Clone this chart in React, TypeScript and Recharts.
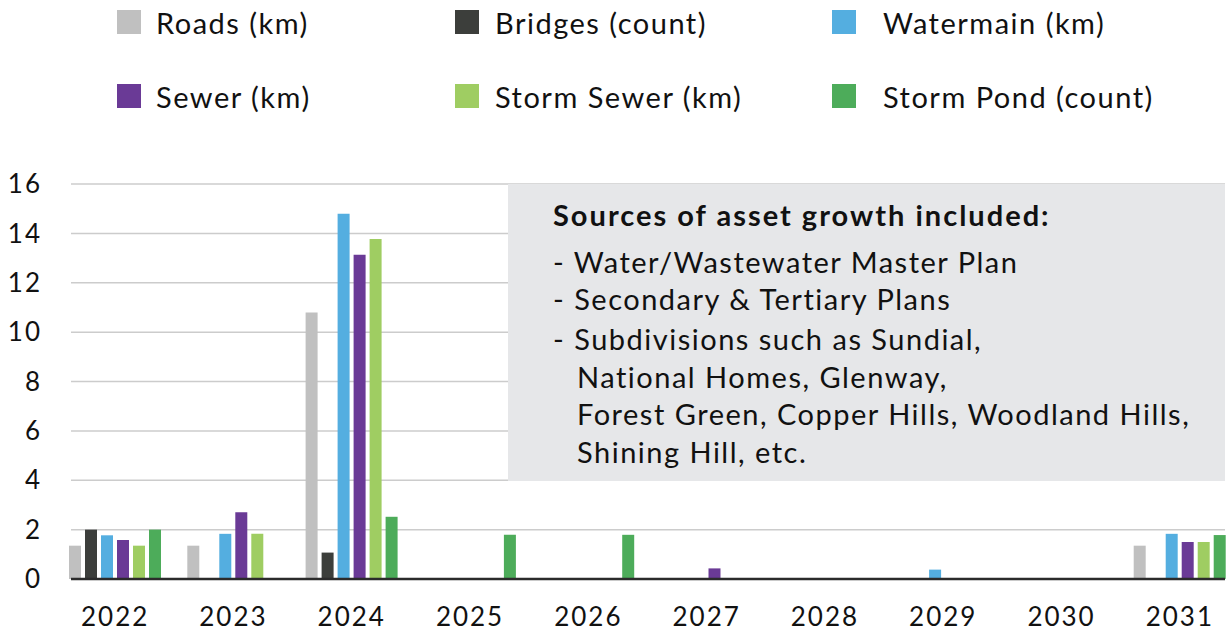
import React from 'react';
import { BarChart, Bar, XAxis, YAxis, CartesianGrid } from 'recharts';

const years = ['2022', '2023', '2024', '2025', '2026', '2027', '2028', '2029', '2030', '2031'];
const roads = [1.35, 1.35, 10.8, 0, 0, 0, 0, 0, 0, 1.35];
const bridges = [2.0, 0, 1.07, 0, 0, 0, 0, 0, 0, 0];
const watermain = [1.77, 1.83, 14.8, 0, 0, 0, 0, 0.38, 0, 1.83];
const sewer = [1.58, 2.7, 13.13, 0, 0, 0.43, 0, 0, 0, 1.5];
const stormSewer = [1.35, 1.83, 13.77, 0, 0, 0, 0, 0, 0, 1.5];
const stormPond = [2.0, 0, 2.52, 1.79, 1.79, 0, 0, 0, 0, 1.78];
const yTicks = [0, 2, 4, 6, 8, 10, 12, 14, 16];

const seriesNames = ['Roads (km)', 'Bridges (count)', 'Watermain (km)', 'Sewer (km)', 'Storm Sewer (km)', 'Storm Pond (count)'];
const seriesKeys = ['roads', 'bridges', 'watermain', 'sewer', 'stormSewer', 'stormPond'];
const seriesColors = ['#c0c0c0', '#3c3e3b', '#54aee0', '#6a3a96', '#9fcd62', '#4dac5a'];

const annotationTitle = 'Sources of asset growth included:';
const annotationLines = [
  '- Water/Wastewater Master Plan',
  '- Secondary & Tertiary Plans',
  '- Subdivisions such as Sundial,',
  'National Homes, Glenway,',
  'Forest Green, Copper Hills, Woodland Hills,',
  'Shining Hill, etc.',
];
const annotationIndent = [false, false, false, true, true, true];

const data = years.map((y, i) => ({
  year: y,
  roads: roads[i],
  bridges: bridges[i],
  watermain: watermain[i],
  sewer: sewer[i],
  stormSewer: stormSewer[i],
  stormPond: stormPond[i],
}));

const FONT = 'Lato, "Open Sans", sans-serif';

const legendSquareX = [117, 455, 832];
const legendTextX = [156, 495, 883];
const legendSquareY = [10, 84];
const legendBaseline = [34, 108];

function LegendLayer() {
  return (
    <svg width={1228} height={130} style={{ position: 'absolute', left: 0, top: 0 }}>
      {seriesNames.map((name, i) => {
        const col = i % 3;
        const row = Math.floor(i / 3);
        return (
          <g key={name}>
            <rect x={legendSquareX[col]} y={legendSquareY[row]} width={24} height={24} fill={seriesColors[i]} />
            <text
              x={legendTextX[col]}
              y={legendBaseline[row]}
              fontFamily={FONT}
              fontSize={29}
              fill="#111"
              style={{ letterSpacing: '1.5px' }}
            >
              {name}
            </text>
          </g>
        );
      })}
    </svg>
  );
}

function AnnotationLayer() {
  const baselines = [273, 310, 350, 388, 425, 463];
  return (
    <svg width={1228} height={632} style={{ position: 'absolute', left: 0, top: 0, pointerEvents: 'none' }}>
      <rect x={508} y={184} width={717} height={297} fill="#e6e7e9" />
      <text x={553} y={226} fontFamily={FONT} fontSize={29} fontWeight={700} fill="#111" style={{ letterSpacing: '2px' }}>
        {annotationTitle}
      </text>
      {annotationLines.map((l, i) => (
        <text
          key={i}
          x={annotationIndent[i] ? 577 : 553}
          y={baselines[i]}
          fontFamily={FONT}
          fontSize={29}
          fill="#111"
          style={{ letterSpacing: '1.5px' }}
        >
          {l}
        </text>
      ))}
    </svg>
  );
}

export default function App() {
  return (
    <div style={{ position: 'absolute', left: 0, top: 0, width: 1228, height: 632, background: '#fff', overflow: 'hidden' }}>
      <BarChart
        width={1228}
        height={632}
        data={data}
        margin={{ top: 184, right: 3, bottom: 0, left: 0 }}
        barSize={12}
        barGap={4}
      >
        <CartesianGrid horizontal={true} vertical={false} stroke="#cccccc" strokeWidth={1.5} />
        <XAxis
          dataKey="year"
          height={53}
          padding={{ left: -15, right: -14 }}
          tickLine={false}
          tickSize={0}
          tickMargin={29}
          axisLine={{ stroke: '#2b2b2b', strokeWidth: 2.5 }}
          tick={{ fontFamily: FONT, fontSize: 26, fill: '#111', style: { letterSpacing: '2px' } }}
          interval={0}
        />
        <YAxis
          width={71}
          domain={[0, 16]}
          ticks={yTicks}
          axisLine={false}
          tickLine={false}
          tickSize={0}
          tickMargin={29}
          tick={{ fontFamily: FONT, fontSize: 26, fill: '#111', style: { letterSpacing: '2px' } }}
        />
        {seriesKeys.map((k, i) => (
          <Bar key={k} dataKey={k} name={seriesNames[i]} fill={seriesColors[i]} isAnimationActive={false} />
        ))}
      </BarChart>
      <LegendLayer />
      <AnnotationLayer />
    </div>
  );
}
